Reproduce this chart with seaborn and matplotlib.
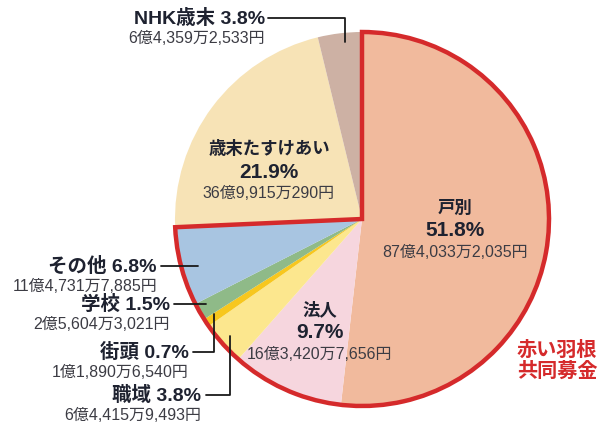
import matplotlib
matplotlib.use("Agg")
import matplotlib.pyplot as plt
from matplotlib.patches import Wedge
import seaborn as sns

sns.set_theme(style="white")
plt.rcParams['font.family'] = ['Liberation Sans', 'Noto Sans CJK JP', 'DejaVu Sans']

# data (percent of total), clockwise from 12 o'clock
categories = ["戸別", "法人", "職域", "街頭", "学校", "その他", "歳末たすけあい", "NHK歳末"]
shares = [51.8, 9.7, 3.8, 0.7, 1.5, 6.8, 21.9, 3.8]
amounts = ["87億4,033万2,035円", "16億3,420万7,656円", "6億4,415万9,493円",
           "1億1,890万6,540円", "2億5,604万3,021円", "11億4,731万7,885円",
           "36億9,915万290円", "6億4,359万2,533円"]
colors = ["#F1BA9D", "#F6D6DE", "#FCE78E", "#F7C71E", "#8FBA88", "#A8C5E1",
          "#F7E3B6", "#CDB1A4"]
red_group = ["戸別", "法人", "職域", "街頭", "学校", "その他"]
group_label = "赤い羽根\n共同募金"

fig = plt.figure(figsize=(6.01, 4.24), dpi=100)
ax = fig.add_axes([0, 0, 1, 1])

cx, cy, r = 362, 219, 187
# y axis runs downward (pixel-like), so start at -90 and go counterclockwise in data
ax.pie(shares, colors=colors, startangle=-90, counterclock=True,
       center=(cx, cy), radius=r, wedgeprops=dict(linewidth=0))

# red outline around the 赤い羽根共同募金 group
grp = sum(s for c, s in zip(categories, shares) if c in red_group)
ax.add_patch(Wedge((cx, cy), r, -90, -90 + grp * 3.6, fill=False,
                   edgecolor="#D52A2B", linewidth=3.2, zorder=5))

ax.set_xlim(0, 601)
ax.set_ylim(424, 0)
ax.axis("off")

dark = "#1E2230"
grey = "#3C3C44"

def pct(i):
    return f"{shares[i]:.1f}%"

# labels inside the big slices
inside = {0: (455, 208), 1: (320, 310), 6: (269, 149)}
for i, (x, y) in inside.items():
    ax.text(x, y, categories[i], ha="center", va="center", fontsize=12.5,
            fontweight="bold", color=dark)
    ax.text(x, y + 23, pct(i), ha="center", va="center", fontsize=15,
            fontweight="bold", color=dark)
    ax.text(x, y + 44, amounts[i], ha="center", va="center", fontsize=11.5,
            color=grey)

# outside labels with leader lines: (text right x, y, line path)
outside = {
    7: (265, 18, [(268, 18), (345, 18), (345, 42)]),
    5: (157, 266, [(161, 266), (198, 266)]),
    4: (170, 304, [(174, 304), (206, 304)]),
    3: (189, 352, [(193, 352), (214, 352), (214, 314)]),
    2: (201, 395, [(206, 395), (230, 395), (230, 336)]),
}
for i, (x, y, path) in outside.items():
    ax.text(x, y, f"{categories[i]} {pct(i)}", ha="right", va="center",
            fontsize=14, fontweight="bold", color=dark)
    ax.text(x, y + 20, amounts[i], ha="right", va="center", fontsize=11.5,
            color=grey)
    xs, ys = zip(*path)
    ax.plot(xs, ys, color="#1A1A1A", linewidth=1.3, zorder=6)

ax.text(517, 361, group_label, ha="left", va="center", fontsize=14.5,
        fontweight="bold", color="#D52A2B", linespacing=1.1)

fig.savefig("out.png", dpi=100)
